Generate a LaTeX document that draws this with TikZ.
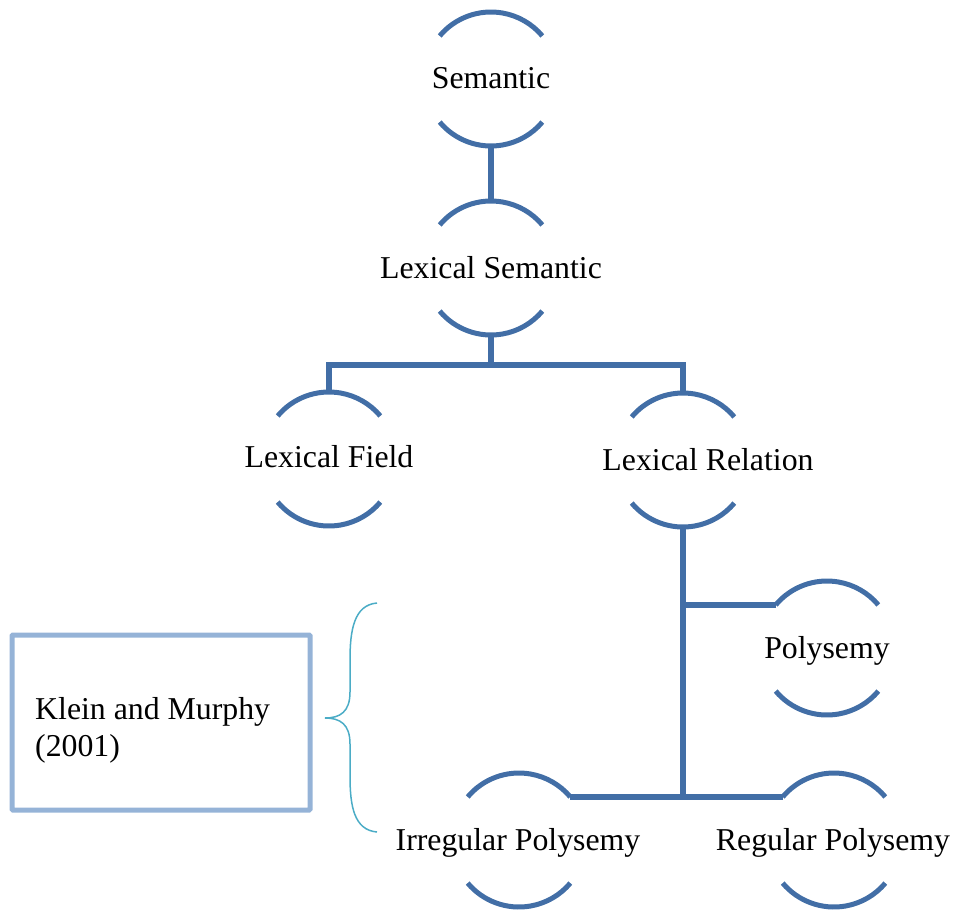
\documentclass[tikz,border=0pt]{standalone}
\usepackage{fontspec}
\setmainfont{Liberation Serif}
\usetikzlibrary{calc}
\definecolor{arcblue}{HTML}{426EA6}
\definecolor{boxblue}{HTML}{95B3D7}
\definecolor{braceteal}{HTML}{4BACC6}
\tikzset{
  lbl/.style={font=\fontsize{31.8}{37}\selectfont, inner sep=0pt, anchor=base},
  arcline/.style={draw=arcblue, line width=5pt},
  conn/.style={draw=arcblue, line width=6pt},
  refbox/.style={draw=boxblue, line width=5pt, rounded corners=1pt, minimum width=298pt, minimum height=175pt, inner sep=0pt},
  bracel/.style={draw=braceteal, line width=1.5pt}
}
\newcommand{\capsule}[1]{%
  \draw[arcline] ([shift={(140:67)}]#1) arc[start angle=140, end angle=40, radius=67];
  \draw[arcline] ([shift={(220:67)}]#1) arc[start angle=220, end angle=320, radius=67];}
\begin{document}
\begin{tikzpicture}[x=1pt,y=1pt]
\useasboundingbox (0,0) rectangle (957,-913);
% centres of the capsule shapes
\coordinate (cSem) at (491,-79);
\coordinate (cLS) at (491,-268);
\coordinate (cLF) at (329,-459);
\coordinate (cLR) at (683,-460);
\coordinate (cPY) at (827,-648);
\coordinate (cIP) at (519,-840);
\coordinate (cRP) at (834,-840);
\foreach \c in {cSem,cLS,cLF,cLR,cPY,cIP,cRP}{\capsule{\c}}
% labels
\node[lbl] (sem) at (491,-88) {Semantic};
\node[lbl] (ls) at (491,-278) {Lexical Semantic};
\node[lbl] (lf) at (329,-467) {Lexical Field};
\node[lbl] (lr) at (708,-470) {Lexical Relation};
\node[lbl] (py) at (827,-658) {Polysemy};
\node[lbl] (ip) at (518,-850) {Irregular Polysemy};
\node[lbl] (rp) at (833,-850) {Regular Polysemy};
% connector points
\coordinate (SEMb) at ($(cSem)+(0,-67)$);
\coordinate (LSt) at ($(cLS)+(0,67)$);
\coordinate (LSb) at ($(cLS)+(0,-67)$);
\coordinate (LFt) at ($(cLF)+(0,67)$);
\coordinate (LRt) at ($(cLR)+(0,67)$);
\coordinate (LRb) at ($(cLR)+(0,-67)$);
\coordinate (PYl) at ($(cPY)+(140:67)$);
\coordinate (IPr) at ($(cIP)+(40:67)$);
\coordinate (RPl) at ($(cRP)+(140:67)$);
\coordinate (j0) at (491,-365);
% connectors
\draw[conn] (SEMb) -- (LSt);
\draw[conn] (LSb) -- (j0);
\draw[conn] (LFt) |- (j0) -| (LRt);
\draw[conn] (LRb) -- (LRb |- IPr);
\draw[conn] (LRb |- PYl) -- (PYl);
\draw[conn] (IPr) -- (RPl);
% reference box
\node[refbox] (kbox) at (161,-722.5) {};
\node[font=\fontsize{31.8}{37}\selectfont, inner sep=0pt, anchor=west, align=left] (klein) at (35,-730) {Klein and Murphy\\(2001)};
% brace
\draw[bracel] (377,-603) .. controls (354,-605) and (350,-630) .. (350,-660)
  -- (350,-692) .. controls (350,-712) and (340,-718) .. (325,-718)
  .. controls (340,-718) and (350,-724) .. (350,-744)
  -- (350,-776) .. controls (350,-806) and (354,-830) .. (377,-832);
\end{tikzpicture}
\end{document}
